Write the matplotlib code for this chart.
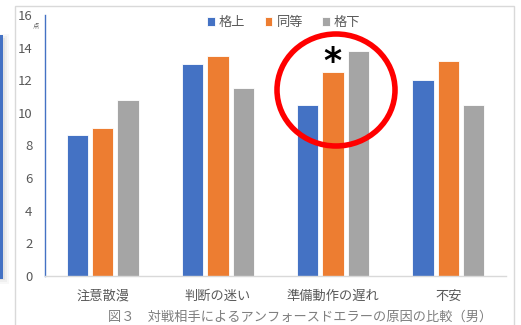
import matplotlib
matplotlib.use("Agg")
import matplotlib.pyplot as plt
from matplotlib.patches import Ellipse, Rectangle
import numpy as np

plt.rcParams['font.family'] = ['Noto Sans CJK JP', 'DejaVu Sans']

categories = ["注意散漫", "判断の迷い", "準備動作の遅れ", "不安"]
series_names = ["格上", "同等", "格下"]
kakuue = [8.65, 13.0, 10.5, 12.0]
douto = [9.05, 13.5, 12.5, 13.2]
kakushita = [10.8, 11.5, 13.8, 10.5]
yticks = [0, 2, 4, 6, 8, 10, 12, 14, 16]
colors = ["#4472C4", "#ED7D31", "#A5A5A5"]
caption = "図３　対戦相手によるアンフォースドエラーの原因の比較（男）"

W, H = 521, 325
fig = plt.figure(figsize=(W / 100, H / 100), dpi=100)

# chart frame
fig.patches.append(Rectangle((15 / W, -0.05), (514 - 15) / W, 1 - 6 / H + 0.05,
                             transform=fig.transFigure, fill=False,
                             edgecolor="#D9D9D9", linewidth=1.0))
# left-edge artifact (blue line with shadow)
for i, a in enumerate([0.05, 0.08, 0.12]):
    fig.patches.append(Rectangle((0, (325 - 284 + i * 2) / H), (9 - i * 2) / W, (250 - i * 4) / H,
                                 transform=fig.transFigure, facecolor="#888888",
                                 edgecolor="none", alpha=a))
fig.patches.append(Rectangle((0, (325 - 279) / H), 2.5 / W, 244 / H,
                             transform=fig.transFigure, facecolor="#4472C4",
                             edgecolor="none"))

ax = fig.add_axes([45 / W, 1 - 275.7 / H, (506 - 45) / W, (275.7 - 15) / H])
x = np.arange(len(categories))
bw = 0.185
off = 0.22
for i, (vals, c) in enumerate(zip([kakuue, douto, kakushita], colors)):
    ax.bar(x + (i - 1) * off, vals, width=bw, color=c, label=series_names[i],
           edgecolor="white", linewidth=0.6, zorder=2)

ax.set_xlim(-0.5, len(categories) - 0.5)
ax.set_ylim(0, 16)
ax.set_yticks(yticks)
ax.set_yticklabels([str(v) for v in yticks])
ax.set_xticks(x)
ax.set_xticklabels(categories)
ax.tick_params(axis="both", length=0, colors="#595959", labelsize=9.5)
ax.tick_params(axis="y", pad=9)
ax.tick_params(axis="x", pad=10)
for s in ["top", "right"]:
    ax.spines[s].set_visible(False)
ax.spines["left"].set_color("#4472C4")
ax.spines["left"].set_linewidth(1.0)
ax.spines["bottom"].set_color("#D9D9D9")
ax.spines["bottom"].set_linewidth(1.0)

# unit label
fig.text(33 / W, 1 - 25 / H, "点", fontsize=4.5, color="#595959", ha="left", va="center")

leg = fig.legend(loc="center left", bbox_to_anchor=(207 / W, 1 - 22.5 / H), ncol=3,
                 frameon=False, fontsize=9.5, handlelength=0.6, handleheight=0.6,
                 handletextpad=0.3, columnspacing=1.45, borderpad=0, borderaxespad=0)
for t in leg.get_texts():
    t.set_color("#595959")

# red circle and asterisk
fig.patches.append(Ellipse((336 / W, 1 - 90 / H), 118 / W, 112 / H,
                           transform=fig.transFigure, fill=False,
                           edgecolor="#FF0000", linewidth=4.0, zorder=5))
fig.text(332 / W, 1 - 62 / H, "*", fontsize=25, fontweight="bold",
         ha="center", va="center", color="black", family="DejaVu Sans")

fig.text(300 / W, 1 - 317 / H, caption, fontsize=9.5, color="#7F7F7F",
         ha="center", va="center")

fig.savefig("out.png", dpi=100, facecolor="white")
